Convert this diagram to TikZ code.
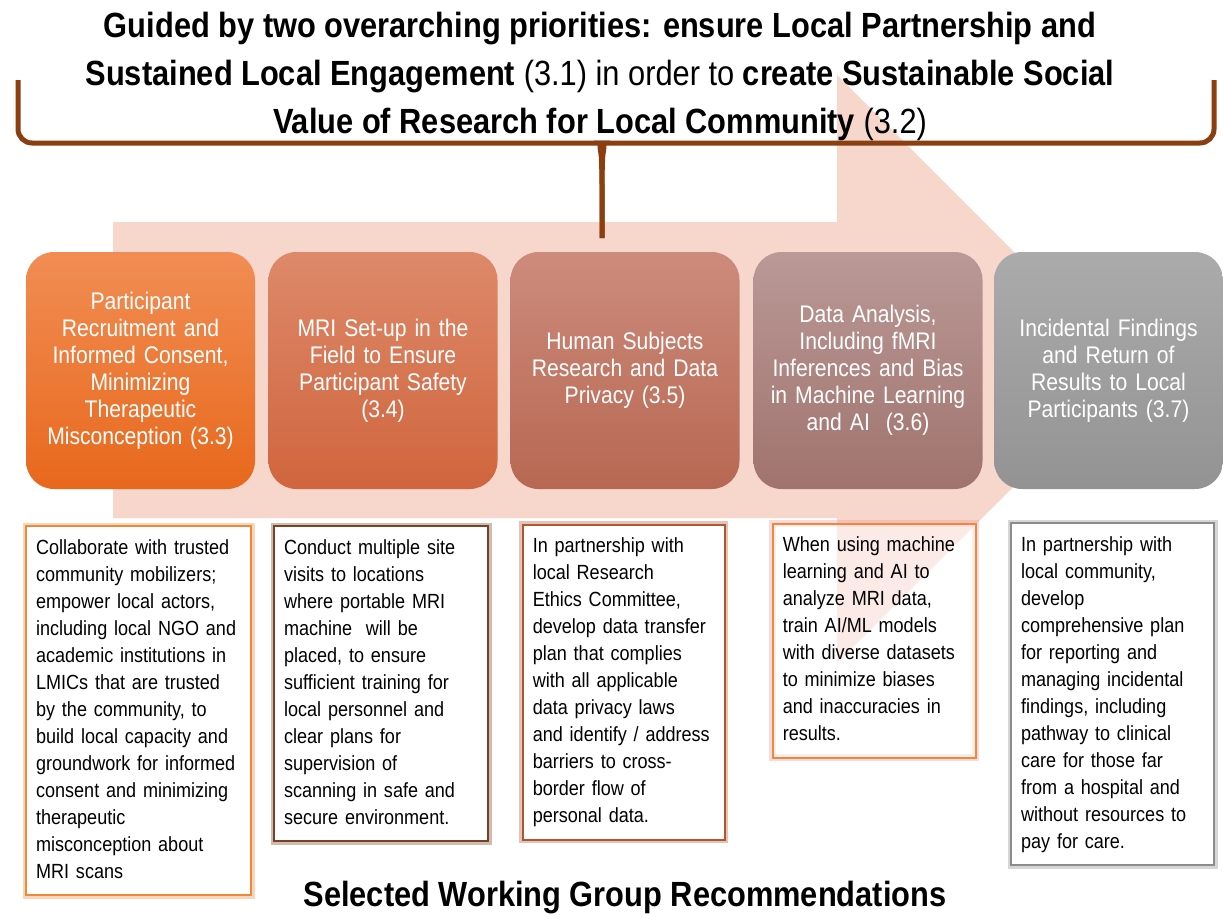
\documentclass[tikz,border=0pt]{standalone}
\usepackage{fontspec}
\setmainfont{Liberation Sans}[FakeStretch=0.88]
\usepackage{tikz}
\usetikzlibrary{backgrounds}
\definecolor{arrowpink}{RGB}{247,214,204}
\definecolor{bracebrown}{RGB}{139,62,16}
\definecolor{boxorange}{RGB}{240,136,58}
\definecolor{glowpink}{RGB}{240,150,150}
\definecolor{boxbrown}{RGB}{122,66,36}
\definecolor{boxrust}{RGB}{178,86,46}
\definecolor{boxgrey}{RGB}{140,140,140}
\definecolor{stageAtop}{RGB}{241,141,84}
\definecolor{stageAbot}{RGB}{232,104,28}
\definecolor{stageBtop}{RGB}{221,137,106}
\definecolor{stageBbot}{RGB}{208,101,62}
\definecolor{stageCtop}{RGB}{205,139,124}
\definecolor{stageCbot}{RGB}{183,104,82}
\definecolor{stageDtop}{RGB}{186,153,150}
\definecolor{stageDbot}{RGB}{160,115,110}
\definecolor{stageEtop}{RGB}{171,171,171}
\definecolor{stageEbot}{RGB}{147,147,147}
\newcommand{\recfont}{\fontsize{20.5}{27}\selectfont\hyphenpenalty=10000\relax}

\begin{document}
\begin{tikzpicture}[x=1pt,y=-1pt,
  stage/.style={rounded corners=28pt, minimum width=229pt, minimum height=237pt,
    text width=215pt, align=center, inner sep=0pt, text=white,
    top color=stage#1top, bottom color=stage#1bot, draw=none, font=\fontsize{24}{27}\selectfont},
  recbox/.style 2 args={anchor=north west, draw=#1, line width=2.2pt, fill=white,
    preaction={draw=#2, draw opacity=0.35, line width=7pt},
    align=left, inner xsep=10pt, inner ysep=9pt, font=\recfont},
  brace/.style={draw=bracebrown, line width=5pt, rounded corners=14pt}]
\useasboundingbox (0,0) rectangle (1223,918);
\fill[white] (0,0) rectangle (1223,918);
\fill[arrowpink] (113,222) -- (837,222) -- (837,75) -- (1131,369) -- (837,663) -- (837,518) -- (113,518) -- cycle;
\draw[brace] (18,80) -- (18,143) -- (588,143) .. controls (598,143) and (601,150) .. (602,172) -- (602,238);
\draw[brace] (1214,80) -- (1214,143) -- (616,143) .. controls (606,143) and (603,150) .. (602,172) -- (602,238);
\node[font=\fontsize{35}{48}\selectfont, align=center, anchor=north, inner sep=0pt] (head) at (600,12)
  {\textbf{Guided by two overarching priorities: ensure Local Partnership and}\\
   \textbf{Sustained Local Engagement} (3.1) in order to \textbf{create Sustainable Social}\\
   \textbf{Value of Research for Local Community} (3.2)};
\node[stage=A] (s1) at (140.5,370.5)
  {Participant\\Recruitment and\\Informed Consent,\\Minimizing\\Therapeutic\\Misconception (3.3)};
\node[stage=B] (s2) at (383,370.5)
  {MRI Set-up in the\\Field to Ensure\\Participant Safety\\(3.4)};
\node[stage=C] (s3) at (625,370.5)
  {Human Subjects\\Research and Data\\Privacy (3.5)};
\node[stage=D] (s4) at (868,370.5)
  {Data Analysis,\\Including fMRI\\Inferences and Bias\\in Machine Learning\\and AI~~(3.6)};
\node[stage=E] (s5) at (1108.5,370.5)
  {Incidental Findings\\and Return of\\Results to Local\\Participants (3.7)};
\node[recbox={boxorange}{boxorange}, text width=205pt] (r1) at (25,525)
  {\strut Collaborate with trusted\\community mobilizers;\\empower local actors,\\including local NGO and\\academic institutions in\\LMICs that are trusted\\by the community, to\\build local capacity and\\groundwork for informed\\consent and minimizing\\therapeutic\\misconception about\\MRI scans\strut};
\node[recbox={boxbrown}{boxbrown}, text width=194pt] (r2) at (273,525)
  {\strut Conduct multiple site\\visits to locations\\where portable MRI\\machine~ will be\\placed, to ensure\\sufficient training for\\local personnel and\\clear plans for\\supervision of\\scanning in safe and\\secure environment.\strut};
\node[recbox={boxrust}{boxrust}, text width=182pt, line width=1.6pt] (r3) at (522,524)
  {\strut In partnership with\\local Research\\Ethics Committee,\\develop data transfer\\plan that complies\\with all applicable\\data privacy laws\\and identify / address\\barriers to cross-\\border flow of\\personal data.\strut};
\node[recbox={boxorange}{glowpink}, text width=183pt, line width=1.6pt, fill opacity=0.5, text opacity=1] (r4) at (772,523)
  {\strut When using machine\\learning and AI to\\analyze MRI data,\\train AI/ML models\\with diverse datasets\\to minimize biases\\and inaccuracies in\\results.\strut};
\node[recbox={boxgrey}{boxgrey}, text width=183pt] (r5) at (1010,522)
  {\strut In partnership with\\local community,\\develop\\comprehensive plan\\for reporting and\\managing incidental\\findings, including\\pathway to clinical\\care for those far\\from a hospital and\\without resources to\\pay for care.\strut};
\node[font=\fontsize{35}{42}\selectfont\bfseries, anchor=base] (foot) at (625,906) {Selected Working Group Recommendations};
\end{tikzpicture}
\end{document}
